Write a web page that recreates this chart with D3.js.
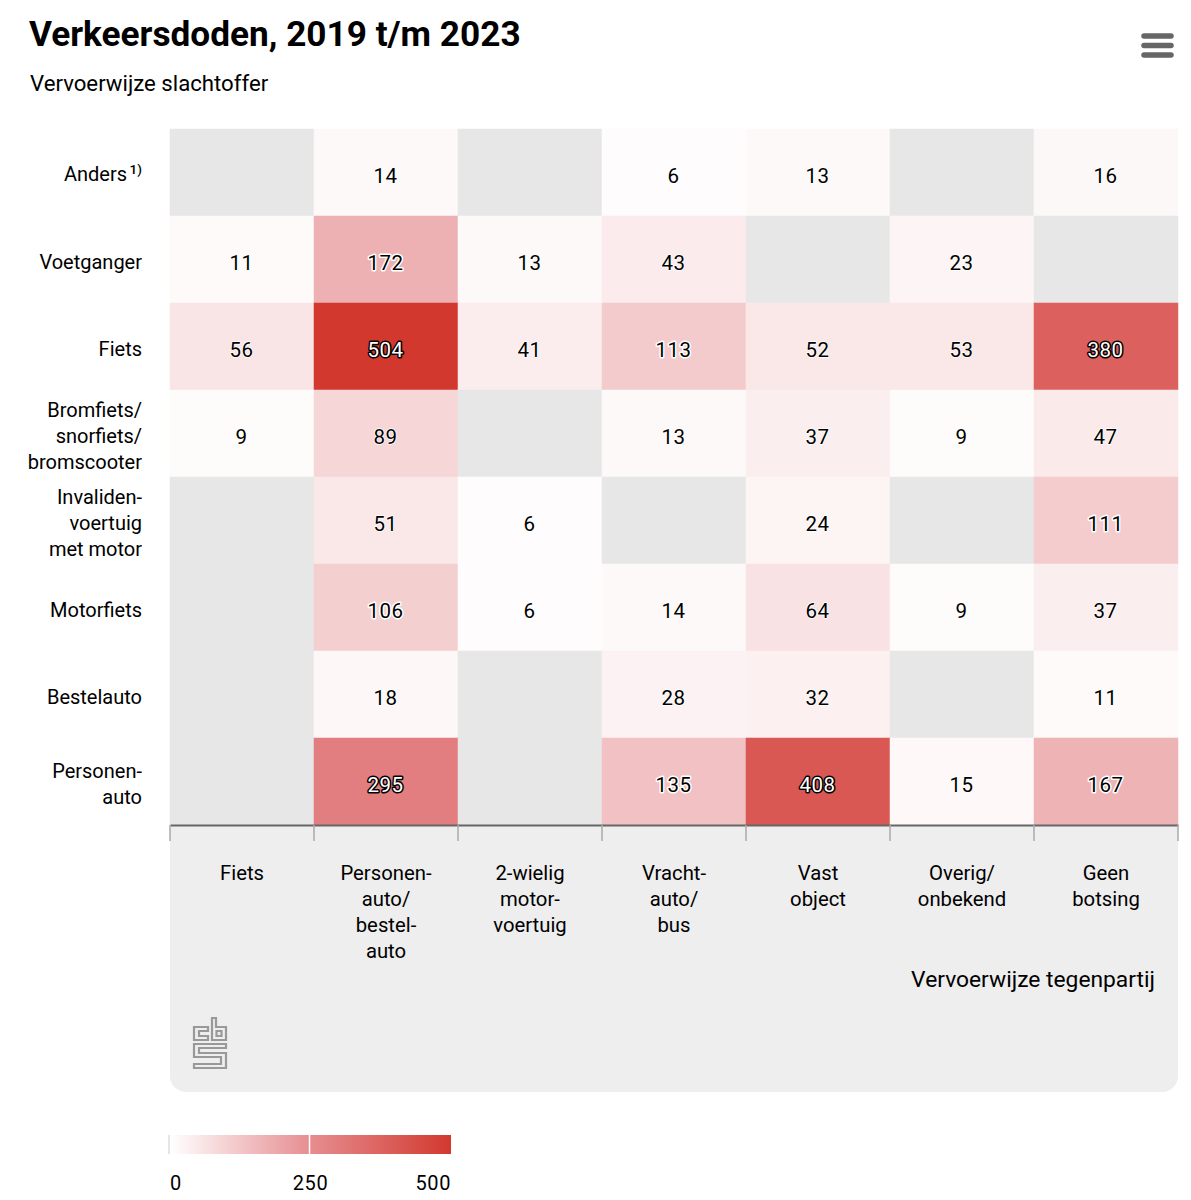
<!DOCTYPE html>
<html>
<head>
<meta charset="utf-8">
<script src="https://cdn.jsdelivr.net/npm/d3@7"></script>
<style>
  html, body { margin: 0; padding: 0; background: #fff; }
  text { font-family: Roboto, sans-serif; fill: #000; }
</style>
</head>
<body>
<div id="chart"></div>
<script>
// tegenpartij (kolommen)
var opponents = ["Fiets", "Personen-auto/bestel-auto", "2-wielig motor-voertuig", "Vracht-auto/bus", "Vast object", "Overig/onbekend", "Geen botsing"];
var opponentLines = [
  ["Fiets"],
  ["Personen-", "auto/", "bestel-", "auto"],
  ["2-wielig", "motor-", "voertuig"],
  ["Vracht-", "auto/", "bus"],
  ["Vast", "object"],
  ["Overig/", "onbekend"],
  ["Geen", "botsing"]
];

// slachtoffer (rijen)
var victims = ["Anders", "Voetganger", "Fiets", "Bromfiets", "Invaliden", "Motorfiets", "Bestelauto", "Personenauto"];
var victimLines = [
  ["Anders"],
  ["Voetganger"],
  ["Fiets"],
  ["Bromfiets/", "snorfiets/", "bromscooter"],
  ["Invaliden-", "voertuig", "met motor"],
  ["Motorfiets"],
  ["Bestelauto"],
  ["Personen-", "auto"]
];

// null = geen waarde, grijs vak
var anders     = [null, 14, null, 6, 13, null, 16];
var voetganger = [11, 172, 13, 43, null, 23, null];
var fiets      = [56, 504, 41, 113, 52, 53, 380];
var bromfiets  = [9, 89, null, 13, 37, 9, 47];
var invaliden  = [null, 51, 6, null, 24, null, 111];
var motorfiets = [null, 106, 6, 14, 64, 9, 37];
var bestelauto = [null, 18, null, 28, 32, null, 11];
var personen   = [null, 295, null, 135, 408, 15, 167];
var rows = [anders, voetganger, fiets, bromfiets, invaliden, motorfiets, bestelauto, personen];

var legendTicks = [0, 250, 500];

var svg = d3.select("#chart").append("svg")
  .attr("width", 1191)
  .attr("height", 1200)
  .style("display", "block");

var x = d3.scaleBand().domain(opponents).range([170, 1178]);
var y = d3.scaleBand().domain(victims).range([129, 825]);
var color = d3.scaleLinear()
  .domain([0, 250, 500])
  .range(["#ffffff", "#e68d90", "#d2392f"]);

// titel
svg.append("text")
  .attr("x", 29).attr("y", 46)
  .style("font-size", "35.2px")
  .style("font-weight", "700")
  .text("Verkeersdoden, 2019 t/m 2023");

svg.append("text")
  .attr("x", 30).attr("y", 91)
  .style("font-size", "22.2px")
  .text("Vervoerwijze slachtoffer");

// menu icoon
svg.selectAll("line.menu")
  .data([36, 45.5, 55])
  .enter()
  .append("line")
  .attr("class", "menu")
  .attr("x1", 1144).attr("x2", 1171)
  .attr("y1", function(d){ return d; })
  .attr("y2", function(d){ return d; })
  .attr("stroke", "#666")
  .attr("stroke-width", 5.5)
  .attr("stroke-linecap", "round");

// grijs vlak onder de grafiek
svg.append("path")
  .attr("d", "M170,825H1178V1076a16,16 0 0 1 -16,16H186a16,16 0 0 1 -16,-16Z")
  .attr("fill", "#eeeeee");

// cellen
var cells = [];
rows.forEach(function(row, r){
  row.forEach(function(v, c){
    cells.push({victim: victims[r], opponent: opponents[c], value: v});
  });
});

svg.selectAll("rect.cell")
  .data(cells)
  .enter()
  .append("rect")
  .attr("class", "cell")
  .attr("x", function(d){ return x(d.opponent); })
  .attr("y", function(d){ return y(d.victim); })
  .attr("width", x.bandwidth())
  .attr("height", y.bandwidth())
  .attr("fill", function(d){ return d.value === null ? "#e7e7e7" : color(d.value); })
  .attr("stroke", function(d){ return d.value === null ? "#e7e7e7" : color(d.value); })
  .attr("stroke-width", 0.5);

// waarden: zwart met witte halo, donkere vakken wit met zwarte rand
var labelled = cells.filter(function(d){ return d.value !== null; });
var dark = function(d){ return d.value >= 250; };

svg.selectAll("text.value")
  .data(labelled)
  .enter()
  .append("text")
  .attr("class", "value")
  .attr("x", function(d){ return x(d.opponent) + x.bandwidth() / 2 - 0.5; })
  .attr("y", function(d){ return y(d.victim) + y.bandwidth() / 2 + 10; })
  .attr("text-anchor", "middle")
  .style("font-size", "20.5px")
  .style("letter-spacing", "0.4px")
  .style("paint-order", "stroke")
  .style("stroke-linejoin", "round")
  .style("stroke", function(d){ return dark(d) ? "#000" : "#fff"; })
  .style("stroke-width", function(d){ return d.value >= 100 ? 3 : 1.5; })
  .style("fill", function(d){ return dark(d) ? "#fff" : "#000"; })
  .text(function(d){ return d.value; });

// y labels
var yLabels = svg.selectAll("g.ylabel")
  .data(victims)
  .enter()
  .append("g")
  .attr("class", "ylabel")
  .attr("transform", function(d){
    return "translate(142," + (y(d) + y.bandwidth() / 2) + ")";
  });

yLabels.each(function(d, i){
  var lines = victimLines[i];
  d3.select(this).selectAll("text")
    .data(lines)
    .enter()
    .append("text")
    .attr("text-anchor", "end")
    .attr("y", function(l, j){ return 9.5 + (j - (lines.length - 1) / 2) * 26; })
    .style("font-size", "20px")
    .text(function(l){ return l; });
});

// voetnoot bij Anders
yLabels.filter(function(d){ return d === "Anders"; })
  .select("text")
  .attr("x", -15)
  .attr("y", 8);
yLabels.filter(function(d){ return d === "Anders"; })
  .append("text")
  .attr("text-anchor", "end")
  .attr("y", 1.5)
  .style("font-size", "13.5px")
  .style("font-weight", "500")
  .text("1)");

// x as
var xAxis = d3.axisBottom(x).tickSize(0).tickFormat("");
svg.append("g")
  .attr("transform", "translate(0,825)")
  .call(xAxis)
  .call(function(g){
    g.select(".domain").attr("stroke", "#666").attr("stroke-width", 2);
    g.selectAll(".tick").remove();
  });

svg.selectAll("line.xtick")
  .data(opponents.concat([null]))
  .enter()
  .append("line")
  .attr("class", "xtick")
  .attr("x1", function(d){ return d === null ? x.range()[1] : x(d); })
  .attr("x2", function(d){ return d === null ? x.range()[1] : x(d); })
  .attr("y1", 825)
  .attr("y2", 841)
  .attr("stroke", "#aaa")
  .attr("stroke-width", 1.5);

var xLabels = svg.selectAll("g.xlabel")
  .data(opponents)
  .enter()
  .append("g")
  .attr("class", "xlabel")
  .attr("transform", function(d){
    return "translate(" + (x(d) + x.bandwidth() / 2) + ",880)";
  });

xLabels.each(function(d, i){
  d3.select(this).selectAll("text")
    .data(opponentLines[i])
    .enter()
    .append("text")
    .attr("text-anchor", "middle")
    .attr("y", function(l, j){ return j * 26; })
    .style("font-size", "20.3px")
    .text(function(l){ return l; });
});

svg.append("text")
  .attr("x", 1155).attr("y", 987)
  .attr("text-anchor", "end")
  .style("font-size", "22.8px")
  .text("Vervoerwijze tegenpartij");

// cbs logo
var logo = svg.append("g")
  .attr("transform", "translate(193,1017)")
  .attr("fill", "none")
  .attr("stroke", "#999")
  .attr("stroke-width", 2.2);
logo.append("path").attr("d", "M15,10H1V23H15V19H6V14H15Z");
logo.append("path").attr("d", "M19,1H23V10H33V23H19ZM23.5,14V19H28.5V14Z");
logo.append("path").attr("d", "M1,27H33V31H6V36H33V51H1V47H28V40H1Z");

// legenda
var legendX = d3.scaleLinear().domain([0, 500]).range([170, 451]);
var defs = svg.append("defs");
var grad = defs.append("linearGradient").attr("id", "legendGrad");
grad.selectAll("stop")
  .data(legendTicks)
  .enter()
  .append("stop")
  .attr("offset", function(d){ return d / 500; })
  .attr("stop-color", function(d){ return color(d); });

svg.append("rect")
  .attr("x", legendX(0))
  .attr("y", 1135)
  .attr("width", legendX(500) - legendX(0))
  .attr("height", 19)
  .attr("fill", "url(#legendGrad)");

svg.selectAll("line.legendtick")
  .data(legendTicks.slice(0, 2))
  .enter()
  .append("line")
  .attr("class", "legendtick")
  .attr("x1", function(d){ return legendX(d) - 1; })
  .attr("x2", function(d){ return legendX(d) - 1; })
  .attr("y1", 1135).attr("y2", 1154)
  .attr("stroke", function(d){ return d === 0 ? "#ddd" : "#fff"; })
  .attr("stroke-width", 1.5);

svg.selectAll("text.legendlabel")
  .data(legendTicks)
  .enter()
  .append("text")
  .attr("class", "legendlabel")
  .attr("x", function(d){ return legendX(d); })
  .attr("y", 1190)
  .attr("text-anchor", function(d){ return d === 0 ? "start" : d === 500 ? "end" : "middle"; })
  .style("font-size", "20px")
  .style("letter-spacing", "0.6px")
  .text(function(d){ return d; });
</script>
</body>
</html>
